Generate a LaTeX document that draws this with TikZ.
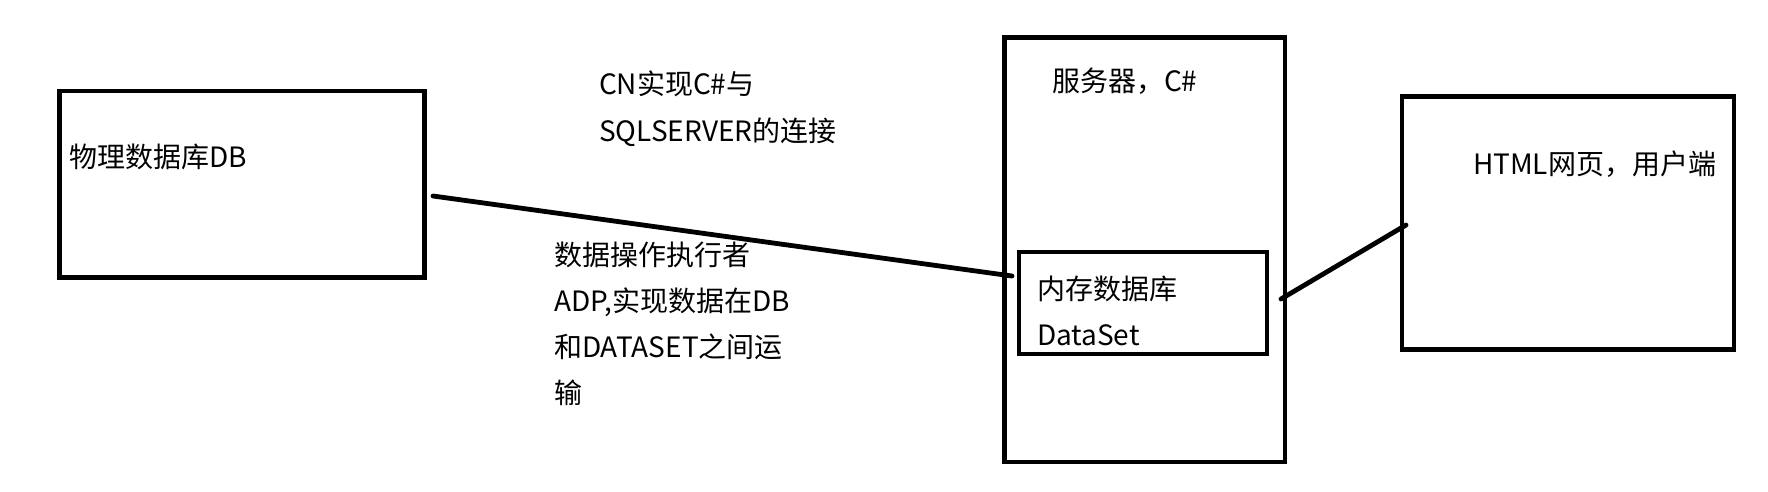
\documentclass[tikz,border=0pt]{standalone}
\usepackage{fontspec}
\setmainfont{Noto Sans CJK SC}
\begin{document}
\begin{tikzpicture}[x=1pt,y=-1pt,
  box/.style={draw=black,line width=4.8pt,rectangle,inner sep=0pt,outer sep=0pt},
  conn/.style={draw=black,line width=4.8pt,line cap=round},
  lbl/.style={anchor=base west,inner sep=0pt,outer sep=0pt,font=\fontsize{28}{46.5}\selectfont,text=black}]
\useasboundingbox (0,0) rectangle (1768,491);
% boxes
\node[box,minimum width=365pt,minimum height=186.5pt] (db) at (242,184.25) {};
\node[box,minimum width=280.5pt,minimum height=424.5pt] (server) at (1144.75,249.75) {};
\node[box,line width=4.4pt,minimum width=248pt,minimum height=102pt] (mem) at (1143,303) {};
\node[box,minimum width=332pt,minimum height=253pt] (html) at (1568,223) {};
% labels
\node[lbl] (tdb) at (69,167) {物理数据库DB};
\node[lbl] (tcn1) at (599,94) {CN实现C\#与};
\node[lbl] (tcn2) at (599,141) {SQLSERVER的连接};
\node[lbl] (tsrv) at (1052,91) {服务器，C\#};
\node[lbl] (tmem1) at (1037,299) {内存数据库};
\node[lbl] (tmem2) at (1037,345) {DataSet};
\node[lbl] (thtml) at (1473,174) {HTML网页，用户端};
\node[lbl] (tadp1) at (554,265) {数据操作执行者};
\node[lbl] (tadp2) at (554,311) {ADP,实现数据在DB};
\node[lbl] (tadp3) at (554,357) {和DATASET之间运};
\node[lbl] (tadp4) at (554,403) {输};
% connectors
\coordinate (a1) at (433,196);
\coordinate (a2) at (1012,276);
\coordinate (b1) at (1281,299);
\coordinate (b2) at (1406,225);
\draw[conn] (a1) -- (a2);
\draw[conn] (b1) -- (b2);
\end{tikzpicture}
\end{document}
